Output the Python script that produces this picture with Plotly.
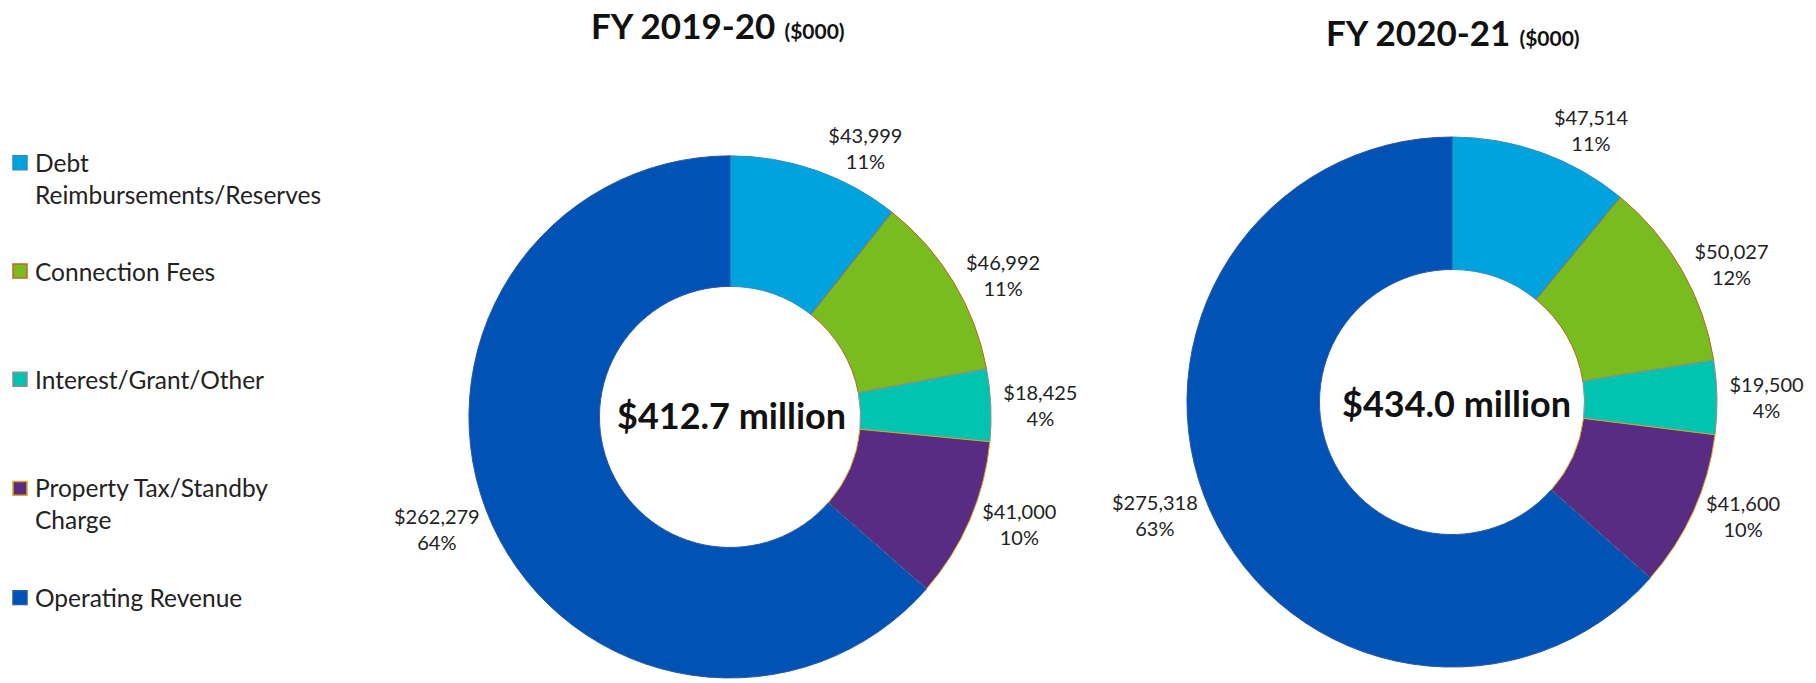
import plotly.graph_objects as go

# ---- data ----
categories = ["Debt<br>Reimbursements/Reserves", "Connection Fees", "Interest/Grant/Other",
              "Property Tax/Standby<br>Charge", "Operating Revenue"]
values_2019 = [43999, 46992, 18425, 41000, 262279]
values_2020 = [47514, 50027, 19500, 41600, 275318]
years = ["FY 2019-20", "FY 2020-21"]
totals_text = ["$412.7 million", "$434.0 million"]

# ---- styles ----
W, H = 1816, 683
FONT = "Lato, Carlito, Calibri, sans-serif"
fill_colors = ["#00A3DD", "#78BC20", "#00C4B0", "#582C82", "#0052B5"]
line_colors = ["#2E8FC4", "#C0642A", "#8A9090", "#E0A820", "#2A5AA8"]

def py(y_px):
    return 1 - y_px / H

def px(x_px):
    return x_px / W

# pie geometry in pixels: (cx, cy, r)
pies = [(730, 420, 263), (1452, 405, 267)]
title_pos = [(718, 25), (1453, 32)]
center_pos = [(731, 418), (1456, 406)]

fig = go.Figure()
for vals, (cx, cy, r) in zip([values_2019, values_2020], pies):
    fig.add_trace(go.Pie(
        labels=[c.replace("<br>", " ") for c in categories],
        values=vals,
        sort=False,
        direction="clockwise",
        rotation=0,
        hole=0.5,
        marker=dict(colors=fill_colors, line=dict(color=line_colors, width=1)),
        texttemplate="$%{value:,}<br>%{percent:.0%}",
        textposition="outside",
        textfont=dict(family=FONT, size=20, color="#222222"),
        domain=dict(x=[px(cx - r), px(cx + r)], y=[py(cy + r), py(cy - r)]),
        showlegend=False,
        hoverinfo="label+value+percent",
    ))

annotations = []
for (tx, ty), yr in zip(title_pos, years):
    annotations.append(dict(
        x=px(tx), y=py(ty), xref="paper", yref="paper", showarrow=False,
        xanchor="center", yanchor="middle",
        text=f"<b>{yr}</b> <b><span style='font-size:21px'>($000)</span></b>",
        font=dict(family=FONT, size=35, color="#111111"),
    ))
for (tx, ty), t in zip(center_pos, totals_text):
    annotations.append(dict(
        x=px(tx), y=py(ty), xref="paper", yref="paper", showarrow=False,
        xanchor="center", yanchor="middle",
        text=f"<b>{t}</b>", font=dict(family=FONT, size=36, color="#111111"),
    ))

# manual legend
legend_first_line_y = [164, 273, 382, 492, 602]
line_h = 31
shapes = []
for cat, fc, lc, y0 in zip(categories, fill_colors, line_colors, legend_first_line_y):
    n = cat.count("<br>") + 1
    shapes.append(dict(type="rect", xref="paper", yref="paper",
                       x0=px(13), x1=px(27), y0=py(y0 + 7), y1=py(y0 - 7),
                       fillcolor=fc, line=dict(color=lc, width=1.5)))
    annotations.append(dict(
        x=px(33), y=py(y0 + (n - 1) * line_h / 2), xref="paper", yref="paper",
        showarrow=False, xanchor="left", yanchor="middle", align="left",
        text=cat, font=dict(family=FONT, size=24.5, color="#222222"),
    ))

fig.update_layout(
    width=W, height=H,
    margin=dict(l=0, r=0, t=0, b=0),
    paper_bgcolor="white", plot_bgcolor="white",
    annotations=annotations, shapes=shapes,
    showlegend=False,
)

fig.write_html("out.html", config={"displayModeBar": False},
               post_script="document.body.style.margin='0';")
